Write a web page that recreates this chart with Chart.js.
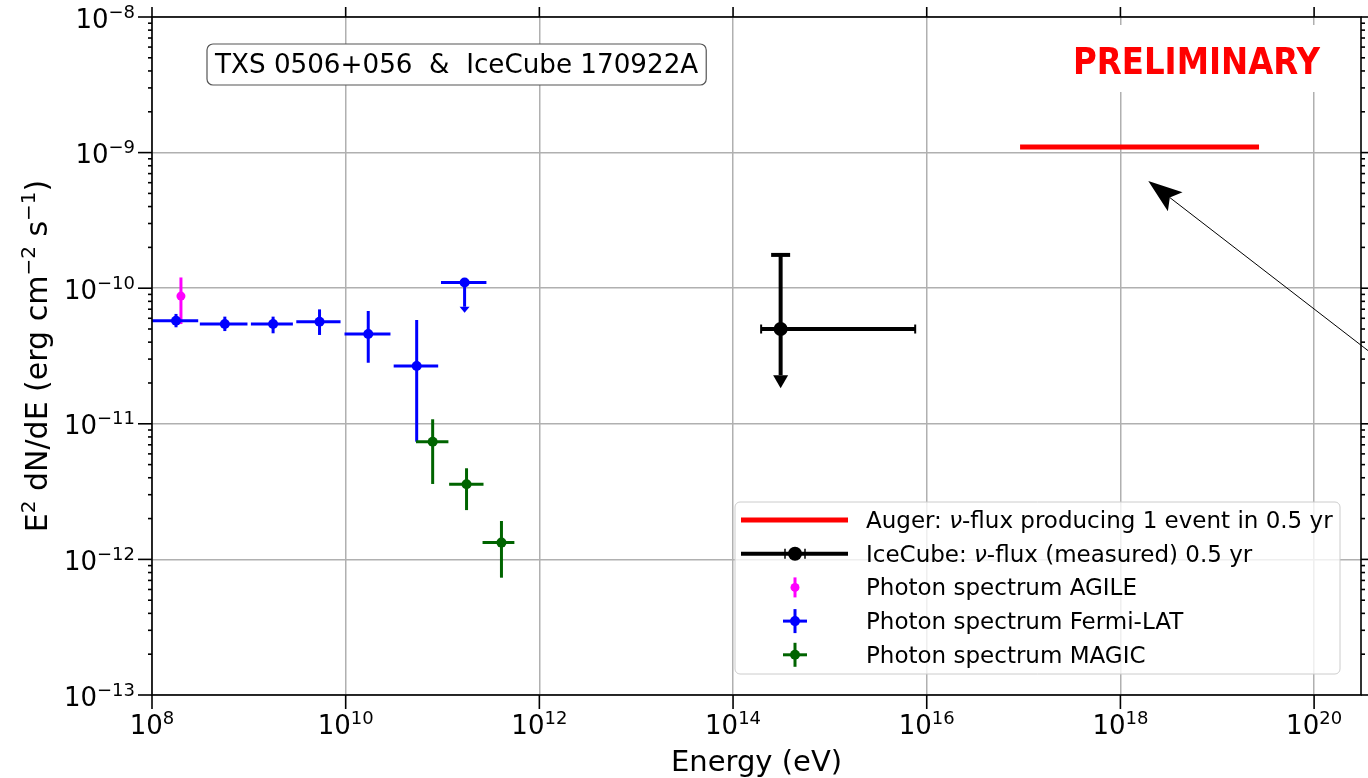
<!DOCTYPE html>
<html>
<head>
<meta charset="utf-8">
<title>TXS 0506+056 &amp; IceCube 170922A</title>
<script src="https://cdn.jsdelivr.net/npm/chart.js@4.4.1/dist/chart.umd.min.js"></script>
<style>
  html, body { margin: 0; padding: 0; background: #fff; }
  #wrap { width: 1368px; height: 778px; position: relative; }
</style>
</head>
<body>
<div id="wrap"><canvas id="sed"></canvas></div>
<script>
// energies in eV, fluxes E^2 dN/dE in erg cm^-2 s^-1
var augerE = [9.2e16, 2.7e19];
var augerFlux = [1.1e-9, 1.1e-9];

var icecubeE = [3.1e14];
var icecubeFlux = [5.0e-11];
var icecubeElo = [1.95e14];
var icecubeEhi = [7.6e15];
var icecubeFhi = [1.76e-10];
var icecubeFlo = [1.83e-11];   // arrow tip

var agileE = [1.99e8];
var agileFlux = [8.75e-11];
var agileFlo = [5.44e-11];
var agileFhi = [1.20e-10];

var fermiE = [1.77e8, 5.65e8, 1.78e9, 5.37e9, 1.71e10, 5.41e10];
var fermiFlux = [5.75e-11, 5.44e-11, 5.44e-11, 5.66e-11, 4.59e-11, 2.67e-11];
var fermiElo = [1.0e8, 3.12e8, 1.05e9, 3.09e9, 9.73e9, 3.13e10];
var fermiEhi = [3.0e8, 9.68e8, 2.85e9, 8.85e9, 2.90e10, 9.02e10];
var fermiFlo = [5.15e-11, 4.83e-11, 4.65e-11, 4.52e-11, 2.82e-11, 7.38e-12];
var fermiFhi = [6.46e-11, 6.17e-11, 6.17e-11, 6.98e-11, 6.79e-11, 5.83e-11];

// fermi upper limit bin
var fermiUlE = [1.69e11];
var fermiUlFlux = [1.10e-10];
var fermiUlElo = [9.64e10];
var fermiUlEhi = [2.84e11];
var fermiUlTip = [6.59e-11];

var magicE = [7.91e10, 1.77e11, 4.06e11];
var magicFlux = [7.38e-12, 3.58e-12, 1.33e-12];
var magicElo = [5.32e10, 1.17e11, 2.59e11];
var magicEhi = [1.15e11, 2.65e11, 5.52e11];
var magicFlo = [3.60e-12, 2.31e-12, 7.33e-13];
var magicFhi = [1.08e-11, 4.70e-12, 1.92e-12];

var xTickExp = [8, 10, 12, 14, 16, 18, 20];
var yTickExp = [-13, -12, -11, -10, -9, -8];

// arrow annotation (tip, tail) in data coords
var arrowTip = { x: 1.94e18, y: 6.18e-10 };
var arrowTail = { x: 3.98e20, y: 3.28e-11 };

var FONT = '"DejaVu Sans"';

function pts(xs, ys) {
  return xs.map(function (e, i) { return { x: e, y: ys[i] }; });
}

var datasets = [
  {
    label: 'Auger', data: pts(augerE, augerFlux), showLine: true,
    borderColor: '#ff0000', backgroundColor: '#ff0000', borderWidth: 5,
    borderCapStyle: 'butt', pointRadius: 0
  },
  {
    label: 'IceCube', data: pts(icecubeE, icecubeFlux),
    borderColor: '#000000', backgroundColor: '#000000', pointRadius: 7, pointBorderWidth: 0,
    errorBars: { xLo: icecubeElo, xHi: icecubeEhi, yHi: icecubeFhi, yTip: icecubeFlo,
      width: 4, xCap: 9, xCapWidth: 2, yCap: 19, headW: 15, headH: 13 }
  },
  {
    label: 'AGILE', data: pts(agileE, agileFlux),
    borderColor: '#ff00ff', backgroundColor: '#ff00ff', pointRadius: 4.5, pointBorderWidth: 0,
    errorBars: { yLo: agileFlo, yHi: agileFhi, width: 3 }
  },
  {
    label: 'Fermi-LAT', data: pts(fermiE, fermiFlux),
    borderColor: '#0000ff', backgroundColor: '#0000ff', pointRadius: 5, pointBorderWidth: 0,
    errorBars: { xLo: fermiElo, xHi: fermiEhi, yLo: fermiFlo, yHi: fermiFhi, width: 3 }
  },
  {
    label: 'Fermi-LAT UL', data: pts(fermiUlE, fermiUlFlux),
    borderColor: '#0000ff', backgroundColor: '#0000ff', pointRadius: 5, pointBorderWidth: 0,
    errorBars: { xLo: fermiUlElo, xHi: fermiUlEhi, yTip: fermiUlTip, width: 3, headW: 10, headH: 6 }
  },
  {
    label: 'MAGIC', data: pts(magicE, magicFlux),
    borderColor: '#006400', backgroundColor: '#006400', pointRadius: 5, pointBorderWidth: 0,
    errorBars: { xLo: magicElo, xHi: magicEhi, yLo: magicFlo, yHi: magicFhi, width: 3 }
  }
];

function line(ctx, x1, y1, x2, y2) {
  ctx.beginPath(); ctx.moveTo(x1, y1); ctx.lineTo(x2, y2); ctx.stroke();
}

// draw a list of [text, font, dy] pieces starting at x on baseline y
function drawPieces(ctx, pieces, x, y) {
  pieces.forEach(function (p) {
    ctx.font = p[1];
    ctx.fillText(p[0], x, y + (p[2] || 0));
    x += ctx.measureText(p[0]).width;
  });
  return x;
}
function piecesWidth(ctx, pieces) {
  var w = 0;
  pieces.forEach(function (p) { ctx.font = p[1]; w += ctx.measureText(p[0]).width; });
  return w;
}
function powPieces(exp) {
  return [['10', '26px ' + FONT, 0], [String(exp).replace('-', '\u2212'), '18px ' + FONT, -10]];
}

var legendRows = [
  { kind: 'line', color: '#ff0000',
    text: [['Auger: ', '23px ' + FONT], ['\u03bd', 'italic 23px ' + FONT], ['-flux producing 1 event in 0.5 yr', '23px ' + FONT]] },
  { kind: 'icecube', color: '#000000',
    text: [['IceCube: ', '23px ' + FONT], ['\u03bd', 'italic 23px ' + FONT], ['-flux (measured) 0.5 yr', '23px ' + FONT]] },
  { kind: 'vbar', color: '#ff00ff', text: [['Photon spectrum AGILE', '23px ' + FONT]] },
  { kind: 'cross', color: '#0000ff', text: [['Photon spectrum Fermi-LAT', '23px ' + FONT]] },
  { kind: 'cross', color: '#006400', text: [['Photon spectrum MAGIC', '23px ' + FONT]] }
];

var errorBarPlugin = {
  id: 'errorBars',
  beforeDatasetsDraw: function (chart) {
    var ctx = chart.ctx, xs = chart.scales.x, ys = chart.scales.y, a = chart.chartArea;

    // title box
    ctx.save();
    var title = 'TXS 0506+056  &  IceCube 170922A';
    ctx.font = '26.2px ' + FONT;
    var tw = ctx.measureText(title).width;
    var bx = a.left + 55, by = a.top + 27, bw = tw + 16, bh = 41;
    ctx.beginPath();
    ctx.roundRect(bx, by, bw, bh, 6);
    ctx.fillStyle = '#ffffff'; ctx.fill();
    ctx.strokeStyle = '#555555'; ctx.lineWidth = 1.2; ctx.stroke();
    ctx.fillStyle = '#000000'; ctx.textBaseline = 'alphabetic';
    ctx.fillText(title, bx + 8, by + 29);

    // preliminary stamp
    ctx.fillStyle = '#ffffff';
    ctx.fillRect(1050, a.top + 8, 295, 67);
    ctx.font = 'bold 37px ' + FONT;
    var pw = ctx.measureText('PRELIMINARY').width;
    ctx.translate(1073, a.top + 57);
    ctx.scale(247 / pw, 1);
    ctx.fillStyle = '#ff0000';
    ctx.fillText('PRELIMINARY', 0, 0);
    ctx.restore();

    // error bars
    chart.data.datasets.forEach(function (ds) {
      var eb = ds.errorBars;
      if (!eb) return;
      ctx.save();
      ctx.strokeStyle = ds.borderColor; ctx.fillStyle = ds.borderColor;
      ctx.lineCap = 'butt';
      ds.data.forEach(function (p, i) {
        var px = xs.getPixelForValue(p.x), py = ys.getPixelForValue(p.y);
        ctx.lineWidth = eb.width;
        if (eb.xLo) {
          var x1 = xs.getPixelForValue(eb.xLo[i]), x2 = xs.getPixelForValue(eb.xHi[i]);
          line(ctx, x1, py, x2, py);
          if (eb.xCap) {
            ctx.lineWidth = eb.xCapWidth;
            line(ctx, x1, py - eb.xCap / 2, x1, py + eb.xCap / 2);
            line(ctx, x2, py - eb.xCap / 2, x2, py + eb.xCap / 2);
            ctx.lineWidth = eb.width;
          }
        }
        var top = eb.yHi ? ys.getPixelForValue(eb.yHi[i]) : py;
        var bot = eb.yLo ? ys.getPixelForValue(eb.yLo[i]) : py;
        if (eb.yTip) bot = ys.getPixelForValue(eb.yTip[i]) - eb.headH;
        line(ctx, px, top, px, bot);
        if (eb.yCap) line(ctx, px - eb.yCap / 2, top, px + eb.yCap / 2, top);
        if (eb.yTip) {
          var tip = ys.getPixelForValue(eb.yTip[i]);
          ctx.beginPath();
          ctx.moveTo(px - eb.headW / 2, tip - eb.headH);
          ctx.lineTo(px + eb.headW / 2, tip - eb.headH);
          ctx.lineTo(px, tip);
          ctx.closePath(); ctx.fill();
        }
      });
      ctx.restore();
    });
  },
  afterDraw: function (chart) {
    var ctx = chart.ctx, xs = chart.scales.x, ys = chart.scales.y, a = chart.chartArea;
    ctx.save();
    ctx.strokeStyle = '#000000'; ctx.fillStyle = '#000000'; ctx.lineWidth = 1.6;
    ctx.strokeRect(a.left, a.top, a.right - a.left, a.bottom - a.top);

    // x ticks + labels
    ctx.textAlign = 'left'; ctx.textBaseline = 'alphabetic';
    xTickExp.forEach(function (e) {
      var x = xs.getPixelForValue(Math.pow(10, e));
      line(ctx, x, a.bottom, x, a.bottom + 14);
      line(ctx, x, a.top, x, a.top - 10);
      var pc = powPieces(e);
      drawPieces(ctx, pc, x - piecesWidth(ctx, pc) / 2, a.bottom + 39);
    });
    // y ticks + labels
    yTickExp.forEach(function (e) {
      var y = ys.getPixelForValue(Math.pow(10, e));
      line(ctx, a.left - 14, y, a.left, y);
      line(ctx, a.right, y, a.right + 10, y);
      var pc = powPieces(e);
      drawPieces(ctx, pc, a.left - 17 - piecesWidth(ctx, pc), y + 10.5);
      if (e < -8) {
        for (var m = 2; m <= 9; m++) {
          var ym = ys.getPixelForValue(m * Math.pow(10, e));
          line(ctx, a.left - 4, ym, a.left, ym);
          line(ctx, a.right, ym, a.right + 4, ym);
        }
      }
    });

    // axis titles
    ctx.font = '29px ' + FONT; ctx.textAlign = 'center';
    ctx.fillText('Energy (eV)', (a.left + a.right) / 2, 771);
    ctx.textAlign = 'left';
    var yl = [['E', '30px ' + FONT, 0], ['2', '20px ' + FONT, -12], [' dN/dE (erg cm', '30px ' + FONT, 0],
      ['\u22122', '20px ' + FONT, -12], [' s', '30px ' + FONT, 0], ['\u22121', '20px ' + FONT, -12], [')', '30px ' + FONT, 0]];
    ctx.save();
    ctx.translate(47, (a.top + a.bottom) / 2);
    ctx.rotate(-Math.PI / 2);
    drawPieces(ctx, yl, -piecesWidth(ctx, yl) / 2, 0);
    ctx.restore();

    // legend
    var lx = 735, ly = a.top + 485, lw = 605, lh = 172;
    ctx.beginPath(); ctx.roundRect(lx, ly, lw, lh, 5);
    ctx.fillStyle = 'rgba(255,255,255,0.8)'; ctx.fill();
    ctx.strokeStyle = '#cccccc'; ctx.lineWidth = 1; ctx.stroke();
    legendRows.forEach(function (r, i) {
      var cy = ly + 18 + i * 33.7, hx = lx + 60;
      ctx.strokeStyle = r.color; ctx.fillStyle = r.color;
      if (r.kind === 'line') {
        ctx.lineWidth = 5; line(ctx, lx + 6, cy, lx + 113, cy);
      } else if (r.kind === 'icecube') {
        ctx.lineWidth = 4; line(ctx, lx + 6, cy, lx + 113, cy);
        ctx.lineWidth = 1.5; line(ctx, hx - 10, cy - 5, hx - 10, cy + 5); line(ctx, hx + 10, cy - 5, hx + 10, cy + 5);
        ctx.beginPath(); ctx.arc(hx, cy, 7, 0, Math.PI * 2); ctx.fill();
      } else if (r.kind === 'vbar') {
        ctx.lineWidth = 3; line(ctx, hx, cy - 10, hx, cy + 10);
        ctx.beginPath(); ctx.arc(hx, cy, 4.5, 0, Math.PI * 2); ctx.fill();
      } else {
        ctx.lineWidth = 3; line(ctx, hx, cy - 12, hx, cy + 12); line(ctx, hx - 12, cy, hx + 12, cy);
        ctx.beginPath(); ctx.arc(hx, cy, 5, 0, Math.PI * 2); ctx.fill();
      }
      ctx.fillStyle = '#000000';
      drawPieces(ctx, r.text, lx + 131, cy + 8);
    });

    // arrow annotation
    var tx = xs.getPixelForValue(arrowTip.x), ty = ys.getPixelForValue(arrowTip.y);
    var sx = xs.getPixelForValue(arrowTail.x), sy = ys.getPixelForValue(arrowTail.y);
    var dx = sx - tx, dy = sy - ty, d = Math.sqrt(dx * dx + dy * dy);
    var ux = dx / d, uy = dy / d, hl = 34, hw = 12;
    ctx.strokeStyle = '#000000'; ctx.fillStyle = '#000000'; ctx.lineWidth = 1;
    line(ctx, tx + ux * hl * 0.8, ty + uy * hl * 0.8, sx, sy);
    ctx.beginPath();
    ctx.moveTo(tx, ty);
    ctx.lineTo(tx + ux * hl - uy * hw, ty + uy * hl + ux * hw);
    ctx.lineTo(tx + ux * hl * 0.8, ty + uy * hl * 0.8);
    ctx.lineTo(tx + ux * hl + uy * hw, ty + uy * hl - ux * hw);
    ctx.closePath(); ctx.fill();
    ctx.restore();
  }
};

var chart = new Chart(document.getElementById('sed'), {
  type: 'scatter',
  data: { datasets: datasets },
  options: {
    responsive: true,
    maintainAspectRatio: false,
    animation: false,
    layout: { padding: { top: 17, right: 0, left: 0, bottom: 0 } },
    plugins: { legend: { display: false }, tooltip: { enabled: false } },
    scales: {
      x: {
        type: 'logarithmic', min: 1e8, max: 3.05e20,
        afterBuildTicks: function (s) { s.ticks = xTickExp.map(function (e) { return { value: Math.pow(10, e) }; }); },
        afterFit: function (s) { s.height = 83; s.paddingLeft = 0; s.paddingRight = 0; },
        ticks: { display: false },
        grid: { color: '#b0b0b0', lineWidth: 1.5, drawTicks: false },
        border: { display: false }
      },
      y: {
        type: 'logarithmic', min: 1e-13, max: 1e-8,
        afterBuildTicks: function (s) { s.ticks = yTickExp.map(function (e) { return { value: Math.pow(10, e) }; }); },
        afterFit: function (s) { s.width = 152; s.paddingTop = 0; s.paddingBottom = 0; },
        ticks: { display: false },
        grid: { color: '#b0b0b0', lineWidth: 1.5, drawTicks: false },
        border: { display: false }
      }
    }
  },
  plugins: [errorBarPlugin]
});
</script>
</body>
</html>
